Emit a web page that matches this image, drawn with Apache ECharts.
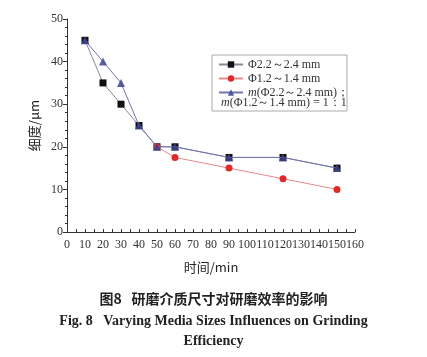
<!DOCTYPE html>
<html><head><meta charset="utf-8">
<script src="https://cdn.jsdelivr.net/npm/echarts@6/dist/echarts.min.js"></script>
<style>html,body{margin:0;padding:0;background:#fff}#c{width:427px;height:357px}</style>
</head><body><div id="c"></div>
<script>
const xLabels = [0,10,20,30,40,50,60,70,80,90,100,110,120,130,140,150,160];
const yLabels = [0,10,20,30,40,50];
const blackX = [10,20,30,40,50,60,90,120,150];
const blackY = [45,35,30,25,20,20,17.5,17.5,15];
const redX = [50,60,90,120,150];
const redY = [20,17.5,15,12.5,10];
const blueX = [10,20,30,40,50,60,90,120,150];
const blueY = [45,40,35,25,20,20,17.5,17.5,15];
const names = ['Φ2.2～2.4 mm','Φ1.2～1.4 mm','m(Φ2.2～2.4 mm)；'];

const pair = (xs, ys) => xs.map((x,i)=>[x, ys[i]]);
const serif = 'Liberation Serif, Times New Roman, serif';
const chart = echarts.init(document.getElementById('c'), null, {renderer:'canvas'});
chart.setOption({
  animation:false,
  backgroundColor:'#fff',
  grid:{left:67,right:72,top:19,bottom:125,containLabel:false},
  xAxis:{type:'value',min:0,max:160,interval:10,
    name:'时间/min',nameLocation:'middle',nameGap:29,
    nameTextStyle:{fontFamily:'Noto Sans CJK SC, '+serif,fontSize:13,color:'#222'},
    axisLine:{lineStyle:{color:'#333',width:1}},
    axisTick:{show:true,length:3,inside:true,lineStyle:{color:'#333'}},
    minorTick:{show:true,splitNumber:2,length:3,lineStyle:{color:'#333'}},
    splitLine:{show:false},
    axisLabel:{fontFamily:serif,fontSize:12,color:'#333',margin:7,
      formatter:v=>xLabels.includes(v)?String(v):''}},
  yAxis:{type:'value',min:0,max:50,interval:10,
    name:'细度/μm',nameLocation:'middle',nameGap:26,nameRotate:90,
    nameTextStyle:{fontFamily:'Noto Sans CJK SC, '+serif,fontSize:13,color:'#222'},
    axisLine:{show:true,lineStyle:{color:'#333',width:1}},
    axisTick:{show:true,length:4,lineStyle:{color:'#333'}},
    minorTick:{show:true,splitNumber:5,length:2,lineStyle:{color:'#333'}},
    splitLine:{show:false},
    axisLabel:{fontFamily:serif,fontSize:12,color:'#333',margin:4,
      formatter:v=>yLabels.includes(v)?String(v):''}},
  legend:{orient:'vertical',left:218,top:58,itemWidth:24,itemHeight:8,itemGap:1,padding:0,
    data:names,
    formatter:n => n.startsWith('m(') ? '{i|m}{n|' + n.slice(1) + '}' : '{n|' + n + '}',
    textStyle:{fontFamily:serif,fontSize:12,color:'#333',lineHeight:13,
      rich:{i:{fontStyle:'italic',fontFamily:serif,fontSize:12,color:'#333',lineHeight:13},
            n:{fontFamily:serif,fontSize:12,color:'#333',lineHeight:13}}}},
  graphic:[
    {type:'rect',shape:{x:212,y:55,width:135,height:56},
      style:{fill:'none',stroke:'#aaa',lineWidth:1},z:-1},
    {type:'text',x:221,y:97,style:{rich:{i:{fontStyle:'italic',fontFamily:serif,fontSize:12,fill:'#333'},n:{fontFamily:serif,fontSize:12,fill:'#333'}},
      text:'{i|m}{n|(Φ1.2～1.4 mm) = 1：1}'}},
    {type:'text',left:'center',top:292,style:{text:'图8   研磨介质尺寸对研磨效率的影响',
      fontFamily:'Noto Sans CJK SC',fontWeight:'bold',fontSize:14,fill:'#222'}},
    {type:'text',left:'center',top:314,style:{text:'Fig. 8   Varying Media Sizes Influences on Grinding',
      fontFamily:serif,fontWeight:'bold',fontSize:14,fill:'#222'}},
    {type:'text',left:'center',top:334,style:{text:'Efficiency',
      fontFamily:serif,fontWeight:'bold',fontSize:14,fill:'#222'}}
  ],
  series:[
    {name:names[0],type:'line',data:pair(blackX,blackY),symbol:'rect',symbolSize:7,
      lineStyle:{color:'#8a8898',width:1},itemStyle:{color:'#111'},z:2},
    {name:names[1],type:'line',data:pair(redX,redY),symbol:'circle',symbolSize:7,
      lineStyle:{color:'#e88a8a',width:1},itemStyle:{color:'#e02a2a'},z:3},
    {name:names[2],type:'line',data:pair(blueX,blueY),symbol:'triangle',symbolSize:8,
      lineStyle:{color:'#6f76b0',width:1},itemStyle:{color:'#3d4490',opacity:0.85},z:4}
  ]
});
</script></body></html>
